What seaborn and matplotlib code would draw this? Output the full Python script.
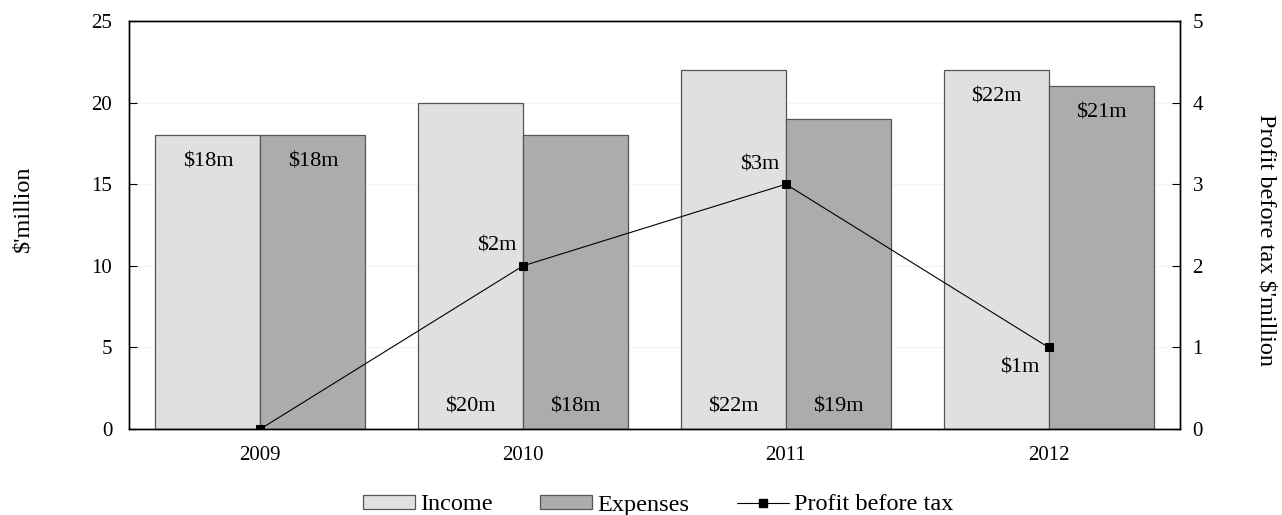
import numpy as np
import pandas as pd
import matplotlib
matplotlib.use("Agg")
import matplotlib.pyplot as plt
from matplotlib.patches import Patch
from matplotlib.lines import Line2D
import seaborn as sns

years = ["2009", "2010", "2011", "2012"]
income = [18, 20, 22, 22]
expenses = [18, 18, 19, 21]
profit = [0, 2, 3, 1]
income_labels = ["$18m", "$20m", "$22m", "$22m"]
expense_labels = ["$18m", "$18m", "$19m", "$21m"]
profit_labels = ["", "$2m", "$3m", "$1m"]
# where each bar's label sits: at the top of the bar or at the base
label_at_top = [True, False, False, True]

sns.set_theme(style="white")
plt.rcParams["font.family"] = ["Liberation Serif", "DejaVu Serif"]
TICK_FS = 15
LABEL_FS = 16
TITLE_FS = 17.5
plt.rcParams["font.size"] = TICK_FS
plt.rcParams["text.color"] = "black"

income_color = "#e0e0e0"
expense_color = "#acacac"
edge_color = "#555555"

df = pd.DataFrame({
    "year": years * 2,
    "value": income + expenses,
    "series": ["Income"] * 4 + ["Expenses"] * 4,
})

fig = plt.figure(figsize=(12.82, 5.15), dpi=100)
ax = fig.add_axes([129 / 1282, 86 / 515, 1051 / 1282, 408 / 515])

sns.barplot(data=df, x="year", y="value", hue="series",
            palette=[income_color, expense_color], width=0.8,
            edgecolor=edge_color, linewidth=0.9, ax=ax, legend=False,
            saturation=1)

ax.set_xlim(-0.5, 3.5)
ax.set_ylim(0, 25)
ax.set_yticks([0, 5, 10, 15, 20, 25])
ax.yaxis.grid(True, color="#f3f3f3", linewidth=0.8)
ax.set_axisbelow(True)
ax.set_xlabel("")
ax.set_ylabel("$'million", fontsize=TITLE_FS, labelpad=42, color="black", y=0.54)
ax.tick_params(axis="y", direction="in", length=6, width=0.8, colors="black",
               labelsize=TICK_FS, pad=12)
ax.tick_params(axis="x", length=0, labelsize=TICK_FS, pad=12, colors="black")
for s in ax.spines.values():
    s.set_color("black")
    s.set_linewidth(1.0)

# bar value labels
for i, c in enumerate(ax.containers):
    vals = income if i == 0 else expenses
    texts = income_labels if i == 0 else expense_labels
    for j, bar in enumerate(c):
        x = bar.get_x() + bar.get_width() / 2
        if label_at_top[j]:
            ax.annotate(texts[j], (x, vals[j]), xytext=(0, -19.5),
                        textcoords="offset points", ha="center", va="center",
                        fontsize=LABEL_FS)
        else:
            ax.annotate(texts[j], (x, 0), xytext=(0, 16),
                        textcoords="offset points", ha="center", va="center",
                        fontsize=LABEL_FS)

ax2 = ax.twinx()
sns.lineplot(x=np.arange(len(years)), y=profit, ax=ax2, color="black",
             linewidth=0.8, marker="s", markersize=6, markeredgecolor="black",
             legend=False)
ax2.set_ylim(0, 5)
ax2.set_yticks([0, 1, 2, 3, 4, 5])
ax2.set_ylabel("Profit before tax $'million", fontsize=TITLE_FS, rotation=-90,
               labelpad=53, color="black", y=0.463)
ax2.tick_params(axis="y", direction="in", length=6, width=0.8, colors="black",
                labelsize=TICK_FS, pad=9)
for s in ax2.spines.values():
    s.set_color("black")
    s.set_linewidth(1.0)

offsets = [(0, 0), (-19, 14), (-19, 14), (-21, -15)]
for j, t in enumerate(profit_labels):
    if t:
        ax2.annotate(t, (j, profit[j]), xytext=offsets[j],
                     textcoords="offset points", ha="center", va="center",
                     fontsize=LABEL_FS)

handles = [
    Patch(facecolor=income_color, edgecolor=edge_color, linewidth=0.9, label="Income"),
    Patch(facecolor=expense_color, edgecolor=edge_color, linewidth=0.9, label="Expenses"),
    Line2D([0], [0], color="black", linewidth=0.8, marker="s", markersize=6,
           label="Profit before tax"),
]
fig.legend(handles=handles, loc="center", bbox_to_anchor=(658 / 1282, 1 - 505 / 515),
           ncol=3, frameon=False, fontsize=TITLE_FS, handlelength=2.14,
           handleheight=0.53, handletextpad=0.2, columnspacing=1.97)

fig.savefig("out.png", dpi=100)
